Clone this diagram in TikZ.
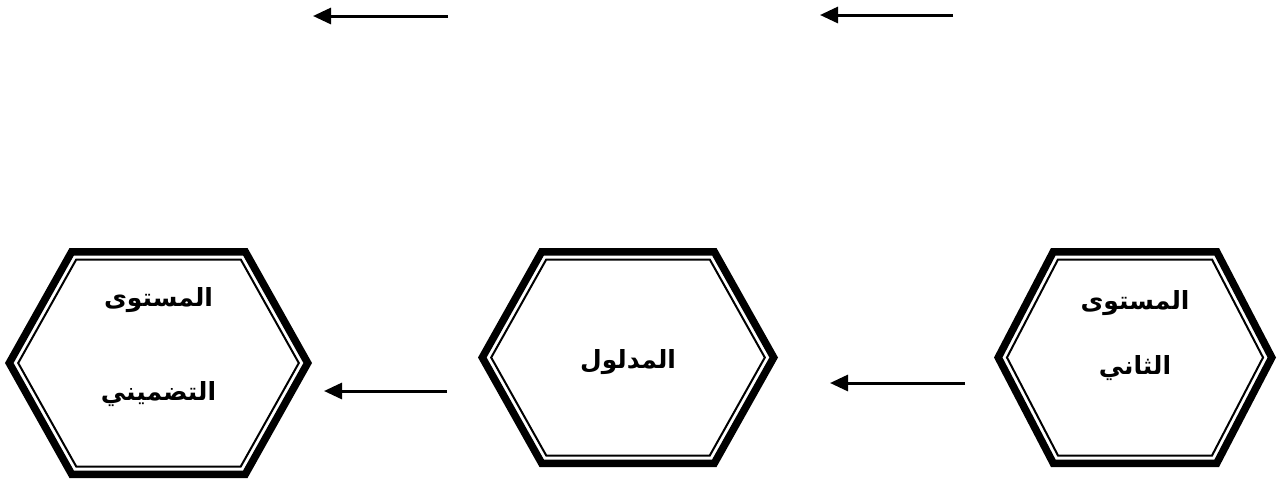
\documentclass[tikz,border=0pt]{standalone}
\usepackage{fontspec}
\usetikzlibrary{arrows.meta}
\newfontfamily\arabicfont[Script=Arabic]{DejaVu Sans}
\TeXXeTstate=1
% cx cy a b h (outer edge) d (inset) w (line width)
\newcommand{\hexoutline}[7]{%
  \pgfmathsetmacro\hxF{1/sin(atan2(#5,#3-#4))}%
  \pgfmathsetmacro\hxA{#3-\hxF*#6}%
  \pgfmathsetmacro\hxH{#5-#6}%
  \pgfmathsetmacro\hxB{\hxA-(#3-#4)*\hxH/#5}%
  \draw[line width=#7,line join=miter] (#1-\hxA,#2) -- (#1-\hxB,#2-\hxH) -- (#1+\hxB,#2-\hxH) -- (#1+\hxA,#2) -- (#1+\hxB,#2+\hxH) -- (#1-\hxB,#2+\hxH) -- cycle;}
\newcommand{\hexframe}[5]{%
  \hexoutline{#1}{#2}{#3}{#4}{#5}{3.75}{7.5pt}%
  \hexoutline{#1}{#2}{#3}{#4}{#5}{11.5}{2pt}}
\tikzset{
  lbl/.style={font=\arabicfont\bfseries\fontsize{25}{30}\selectfont, inner sep=0pt},
  conn/.style={-{Triangle[length=18pt,width=16pt]}, line width=3pt}
}
\begin{document}
\begin{tikzpicture}[x=1pt,y=-1pt]
\useasboundingbox (0,0) rectangle (1277,483);
% hexagons
\hexframe{158.5}{363}{153.5}{89}{115}
\hexframe{628}{357.5}{150}{88.5}{109.5}
\hexframe{1135}{357.5}{141}{84}{109.5}
\coordinate (hexL) at (158.5,363);
\coordinate (hexM) at (628,357.5);
\coordinate (hexR) at (1135,357.5);
% labels
\node[lbl] (l1) at (158.5,300) {\beginR المستوى\endR};
\node[lbl] (l2) at (158.5,394) {\beginR التضميني\endR};
\node[lbl] (m1) at (628,362) {\beginR المدلول\endR};
\node[lbl] (r1) at (1135,303) {\beginR المستوى\endR};
\node[lbl] (r2) at (1135,368) {\beginR الثاني\endR};
% arrow end points
\coordinate (a1s) at (448,16);  \coordinate (a1e) at (313,16);
\coordinate (a2s) at (953,15);  \coordinate (a2e) at (820,15);
\coordinate (a3s) at (447,391); \coordinate (a3e) at (324,391);
\coordinate (a4s) at (965,383); \coordinate (a4e) at (830,383);
\draw[conn] (a1s) -- (a1e);
\draw[conn] (a2s) -- (a2e);
\draw[conn] (a3s) -- (a3e);
\draw[conn] (a4s) -- (a4e);
\end{tikzpicture}
\end{document}
